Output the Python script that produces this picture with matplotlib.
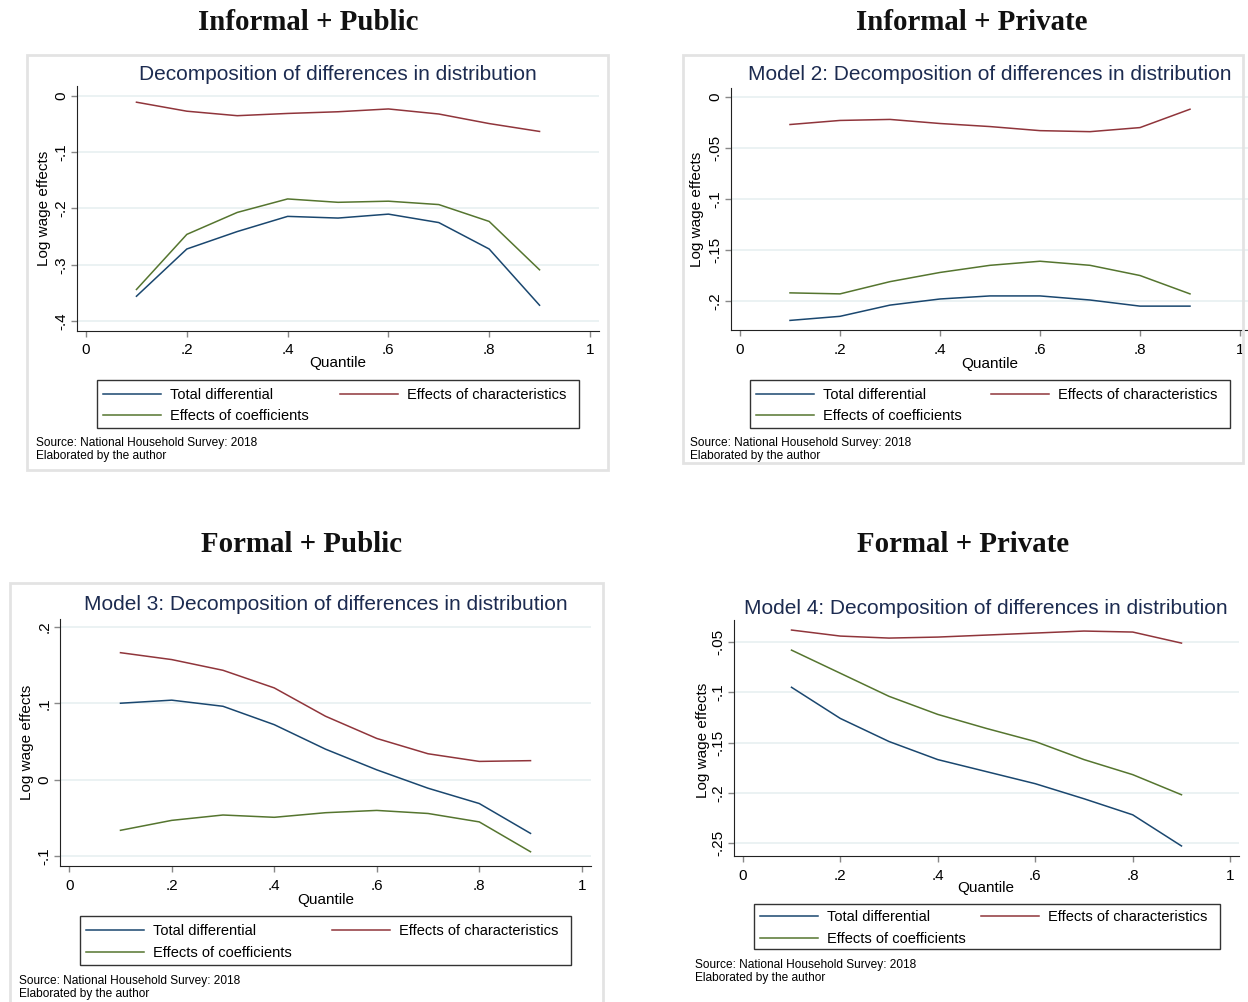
import matplotlib
matplotlib.use("Agg")
import matplotlib.pyplot as plt
from matplotlib.patches import Rectangle
from matplotlib.lines import Line2D

W, H = 1248, 1002

# quantiles where the decomposition is evaluated
quantiles = [0.1, 0.2, 0.3, 0.4, 0.5, 0.6, 0.7, 0.8, 0.9]

# Informal + Public
p1_total = [-0.356, -0.272, -0.241, -0.214, -0.217, -0.210, -0.225, -0.272, -0.372]
p1_chars = [-0.011, -0.027, -0.035, -0.031, -0.028, -0.023, -0.032, -0.049, -0.063]
p1_coefs = [-0.344, -0.246, -0.207, -0.183, -0.189, -0.187, -0.193, -0.223, -0.309]

# Informal + Private
p2_total = [-0.219, -0.215, -0.204, -0.198, -0.195, -0.195, -0.199, -0.205, -0.205]
p2_chars = [-0.027, -0.023, -0.022, -0.026, -0.029, -0.033, -0.034, -0.030, -0.012]
p2_coefs = [-0.192, -0.193, -0.181, -0.172, -0.165, -0.161, -0.165, -0.175, -0.193]

# Formal + Public
p3_total = [0.100, 0.104, 0.096, 0.072, 0.040, 0.013, -0.011, -0.031, -0.070]
p3_chars = [0.166, 0.157, 0.143, 0.120, 0.083, 0.054, 0.034, 0.024, 0.025]
p3_coefs = [-0.066, -0.053, -0.046, -0.049, -0.043, -0.040, -0.044, -0.055, -0.094]

# Formal + Private
p4_total = [-0.095, -0.126, -0.149, -0.167, -0.179, -0.191, -0.206, -0.222, -0.253]
p4_chars = [-0.038, -0.044, -0.046, -0.045, -0.043, -0.041, -0.039, -0.040, -0.051]
p4_coefs = [-0.058, -0.081, -0.104, -0.122, -0.136, -0.149, -0.167, -0.182, -0.202]

xticks = [0, 0.2, 0.4, 0.6, 0.8, 1]
xtick_labels = ["0", ".2", ".4", ".6", ".8", "1"]
p1_yticks = [0, -0.1, -0.2, -0.3, -0.4]
p1_ylabels = ["0", "-.1", "-.2", "-.3", "-.4"]
p2_yticks = [0, -0.05, -0.1, -0.15, -0.2]
p2_ylabels = ["0", "-.05", "-.1", "-.15", "-.2"]
p3_yticks = [0.2, 0.1, 0, -0.1]
p3_ylabels = [".2", ".1", "0", "-.1"]
p4_yticks = [-0.05, -0.1, -0.15, -0.2, -0.25]
p4_ylabels = ["-.05", "-.1", "-.15", "-.2", "-.25"]

headings = ["Informal + Public", "Informal + Private", "Formal + Public", "Formal + Private"]
titles = ["Decomposition of differences in distribution",
          "Model 2: Decomposition of differences in distribution",
          "Model 3: Decomposition of differences in distribution",
          "Model 4: Decomposition of differences in distribution"]
series_names = ["Total differential", "Effects of characteristics", "Effects of coefficients"]
source_lines = ["Source: National Household Survey: 2018", "Elaborated by the author"]

navy = "#1a476f"
maroon = "#90353b"
green = "#55752f"
title_col = "#1c2b50"
grid_col = "#e8f0f1"

plt.rcParams["font.family"] = ["Liberation Sans", "DejaVu Sans"]

fig = plt.figure(figsize=(W / 100, H / 100), dpi=100)


def fx(x):
    return x / W


def fy(y):
    return 1 - y / H


# layout of each panel in pixels
panels = [
    dict(data=(p1_total, p1_chars, p1_coefs), yt=(p1_yticks, p1_ylabels),
         ax=(77, 86, 599, 331), ylim=(-0.4178, 0.0178),
         border=(27, 55, 608, 470), head=(308, 22), title=(338, 74),
         xlab=(338, 363), ylab=(44, 208), leg=(97, 380, 579, 428), src=(36, 442)),
    dict(data=(p2_total, p2_chars, p2_coefs), yt=(p2_yticks, p2_ylabels),
         ax=(731, 88, 1249, 330), ylim=(-0.2284, 0.0088),
         border=(683, 55, 1243, 463), head=(972, 22), title=(990, 75),
         xlab=(990, 364), ylab=(697, 209), leg=(750, 380, 1230, 428), src=(690, 442)),
    dict(data=(p3_total, p3_chars, p3_coefs), yt=(p3_yticks, p3_ylabels),
         ax=(60, 619, 591, 866), ylim=(-0.1126, 0.21),
         border=(10, 583, 603, 1010), head=(302, 544), title=(326, 605),
         xlab=(326, 900), ylab=(27, 742), leg=(80, 916, 571, 965), src=(19, 980)),
    dict(data=(p4_total, p4_chars, p4_coefs), yt=(p4_yticks, p4_ylabels),
         ax=(734, 620, 1239, 856), ylim=(-0.263, -0.028),
         border=None, head=(963, 544), title=(986, 608),
         xlab=(986, 888), ylab=(703, 740), leg=(754, 904, 1220, 949), src=(695, 964)),
]

for i, p in enumerate(panels):
    x0, y0, x1, y1 = p["ax"]
    ax = fig.add_axes([fx(x0), fy(y1), (x1 - x0) / W, (y1 - y0) / H])
    total, chars, coefs = p["data"]
    ax.plot(quantiles, total, color=navy, lw=1.1)
    ax.plot(quantiles, chars, color=maroon, lw=1.1)
    ax.plot(quantiles, coefs, color=green, lw=1.1)
    ax.set_xlim(-0.018, 1.018)
    ax.set_ylim(*p["ylim"])
    ax.set_xticks(xticks)
    ax.set_xticklabels(xtick_labels, fontsize=11)
    yt, yl = p["yt"]
    ax.set_yticks(yt)
    ax.set_yticklabels(yl, fontsize=11, rotation=90, va="center")
    ax.grid(axis="y", color=grid_col, lw=1.2)
    ax.set_axisbelow(True)
    for s in ["top", "right"]:
        ax.spines[s].set_visible(False)
    ax.spines["left"].set_color("#222222")
    ax.spines["bottom"].set_color("#222222")
    ax.tick_params(length=4.5, color="#888888", width=1)
    ax.tick_params(axis="y", pad=1.5)
    ax.tick_params(axis="x", pad=4.5)
    ax.patch.set_alpha(0)

    if p["border"] is not None:
        bx0, by0, bx1, by1 = p["border"]
        fig.add_artist(Rectangle((fx(bx0), fy(by1)), (bx1 - bx0) / W, (by1 - by0) / H,
                                 transform=fig.transFigure, fill=False,
                                 edgecolor="#e3e3e3", lw=2))

    fig.text(fx(p["head"][0]), fy(p["head"][1]), headings[i], ha="center", va="center",
             fontsize=20.8, fontweight="bold", family="Liberation Serif", color="#111111")
    fig.text(fx(p["title"][0]), fy(p["title"][1]), titles[i], ha="center", va="center",
             fontsize=15, color=title_col)
    fig.text(fx(p["xlab"][0]), fy(p["xlab"][1]), "Quantile", ha="center", va="center",
             fontsize=11)
    fig.text(fx(p["ylab"][0]), fy(p["ylab"][1]), "Log wage effects", ha="center",
             va="center", rotation=90, fontsize=11)
    sx, sy = p["src"]
    fig.text(fx(sx), fy(sy + 1), source_lines[0], ha="left", va="center", fontsize=8.6)
    fig.text(fx(sx), fy(sy + 14), source_lines[1], ha="left", va="center", fontsize=8.6)

    # legend box drawn separately, Stata leaves more room on the right
    lx0, ly0, lx1, ly1 = p["leg"]
    fig.add_artist(Rectangle((fx(lx0), fy(ly1)), (lx1 - lx0) / W, (ly1 - ly0) / H,
                             transform=fig.transFigure, fill=False,
                             edgecolor="#333333", lw=1))
    handles = [Line2D([], [], color=navy, lw=1.1),
               Line2D([], [], color=green, lw=1.1),
               Line2D([], [], color=maroon, lw=1.1)]
    labels = [series_names[0], series_names[2], series_names[1]]
    ax.legend(handles, labels, ncol=2, loc="center left",
              bbox_to_anchor=(fx(lx0), fy(ly1 + 1.5), (lx1 - 7 - lx0) / W, (ly1 - ly0) / H),
              bbox_transform=fig.transFigure, mode="expand", borderaxespad=0,
              fontsize=10.5, handlelength=4, handletextpad=0.6,
              labelspacing=0.5, borderpad=0.38, columnspacing=2,
              frameon=False)

fig.savefig("out.png", dpi=100)
